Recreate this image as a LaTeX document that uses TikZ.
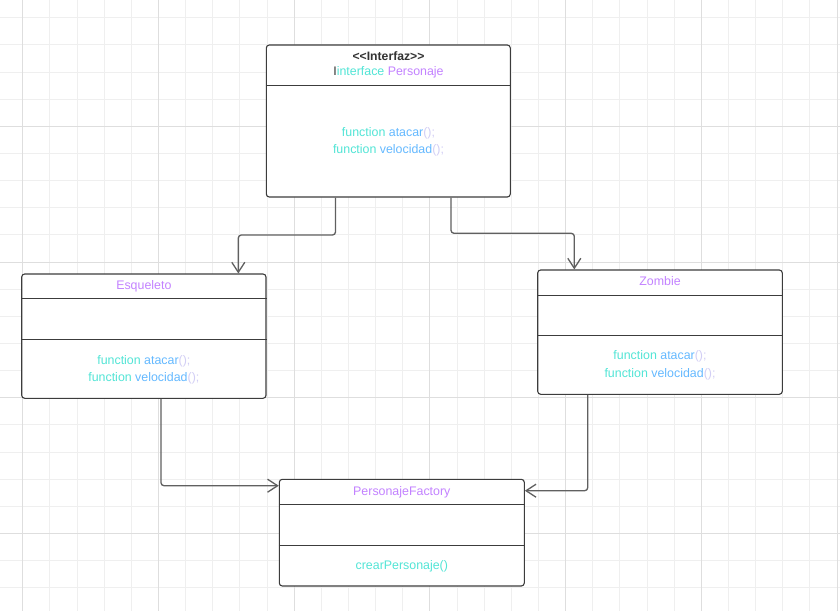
\documentclass[tikz,border=0pt]{standalone}
\usepackage{fontspec}
\setmainfont{Liberation Sans}
\usetikzlibrary{arrows.meta}
\definecolor{gridminor}{HTML}{EFEFEF}
\definecolor{gridmajor}{HTML}{DEDEDE}
\definecolor{boxgray}{HTML}{3C3C3C}
\definecolor{linegray}{HTML}{606060}
\definecolor{kwcyan}{HTML}{52E5D6}
\definecolor{fnblue}{HTML}{64B9FF}
\definecolor{parcol}{HTML}{D2CEF5}
\definecolor{titlepurple}{HTML}{C382FF}
\definecolor{darktext}{HTML}{333333}
\newcommand{\fnline}[1]{{\color{kwcyan}function} {\color{fnblue}#1}{\color{parcol}();}}
\begin{document}
\begin{tikzpicture}[x=1pt,y=-1pt,
  umlbox/.style={draw=boxgray, line width=1.1pt, rounded corners=3pt, fill=white, inner sep=0pt},
  divline/.style={draw=boxgray, line width=1.1pt},
  txt/.style={inner sep=0pt, anchor=base, font=\fontsize{12.4}{14}\selectfont},
  conn/.style={draw=linegray, line width=1.3pt, rounded corners=3pt,
    -{Straight Barb[length=10pt,width=13pt,line width=1.3pt]}}]
\useasboundingbox (0,0) rectangle (840,611);
\fill[white] (0,0) rectangle (840,611);
% grid
\foreach \i in {0,...,30} \draw[gridminor, line width=0.8pt] ({22.7+27.14*\i},0) -- ({22.7+27.14*\i},611);
\foreach \j in {1,...,22} \draw[gridminor, line width=0.8pt] (0,{-9.4+27.14*\j}) -- (840,{-9.4+27.14*\j});
\foreach \i in {0,5,...,30} \draw[gridmajor, line width=0.8pt] ({22.7+27.14*\i},0) -- ({22.7+27.14*\i},611);
\foreach \j in {5,10,15,20} \draw[gridmajor, line width=0.8pt] (0,{-9.4+27.14*\j}) -- (840,{-9.4+27.14*\j});

% boxes
\node[umlbox, minimum width=244pt, minimum height=152pt] (iface) at (388.3,121) {};
\draw[divline] ([yshift=-40.7pt]iface.north west) -- ([yshift=-40.7pt]iface.north east);
\node[umlbox, minimum width=244.3pt, minimum height=124.3pt] (esq) at (143.85,336.15) {};
\draw[divline] ([yshift=-25pt]esq.north west) -- ([yshift=-25pt]esq.north east);
\draw[divline] ([yshift=-66.3pt]esq.north west) -- ([yshift=-66.3pt]esq.north east);
\node[umlbox, minimum width=244.6pt, minimum height=124.3pt] (zom) at (660,332.15) {};
\draw[divline] ([yshift=-26pt]zom.north west) -- ([yshift=-26pt]zom.north east);
\draw[divline] ([yshift=-66pt]zom.north west) -- ([yshift=-66pt]zom.north east);
\node[umlbox, minimum width=245pt, minimum height=106.7pt] (fac) at (401.8,532.65) {};
\draw[divline] ([yshift=-25.7pt]fac.north west) -- ([yshift=-25.7pt]fac.north east);
\draw[divline] ([yshift=-66.4pt]fac.north west) -- ([yshift=-66.4pt]fac.north east);

% texts
\node[txt, font=\fontsize{12.2}{14}\selectfont\bfseries, text=darktext] (ifT1) at (388.5,60.4) {<\kern0pt<Interfaz>\kern0pt>};
\node[txt] (ifT2) at (388.5,75.6) {{\color{darktext}I}{\color{kwcyan}interface} {\color{titlepurple}Personaje}};
\node[txt] (ifF1) at (388.5,136) {\fnline{atacar}};
\node[txt] (ifF2) at (388.5,153.2) {\fnline{velocidad}};

\node[txt, text=titlepurple] (esT) at (143.85,289.4) {Esqueleto};
\node[txt] (esF1) at (143.85,364) {\fnline{atacar}};
\node[txt] (esF2) at (143.85,381) {\fnline{velocidad}};

\node[txt, text=titlepurple] (zoT) at (660,285.4) {Zombie};
\node[txt] (zoF1) at (660,359.4) {\fnline{atacar}};
\node[txt] (zoF2) at (660,377) {\fnline{velocidad}};

\node[txt, text=titlepurple] (faT) at (401.8,495.1) {PersonajeFactory};
\node[txt, text=kwcyan] (faF) at (401.8,569.4) {crearPersonaje()};

% connectors
\coordinate (c1a) at (335.5,235);
\coordinate (c1b) at (238.3,235);
\draw[conn] (iface.south -| c1a) -- (c1a) -- (c1b) -- (esq.north -| c1b);
\coordinate (c2a) at (451,233.3);
\coordinate (c2b) at (574.3,233.3);
\draw[conn] (iface.south -| c2a) -- (c2a) -- (c2b) -- (zom.north -| c2b);
\coordinate (c3) at (161,485.7);
\draw[conn] (esq.south -| c3) -- (c3) -- (fac.west |- c3);
\coordinate (c4) at (587.7,490.7);
\draw[conn] (zom.south -| c4) -- (c4) -- (fac.east |- c4);
\end{tikzpicture}
\end{document}
